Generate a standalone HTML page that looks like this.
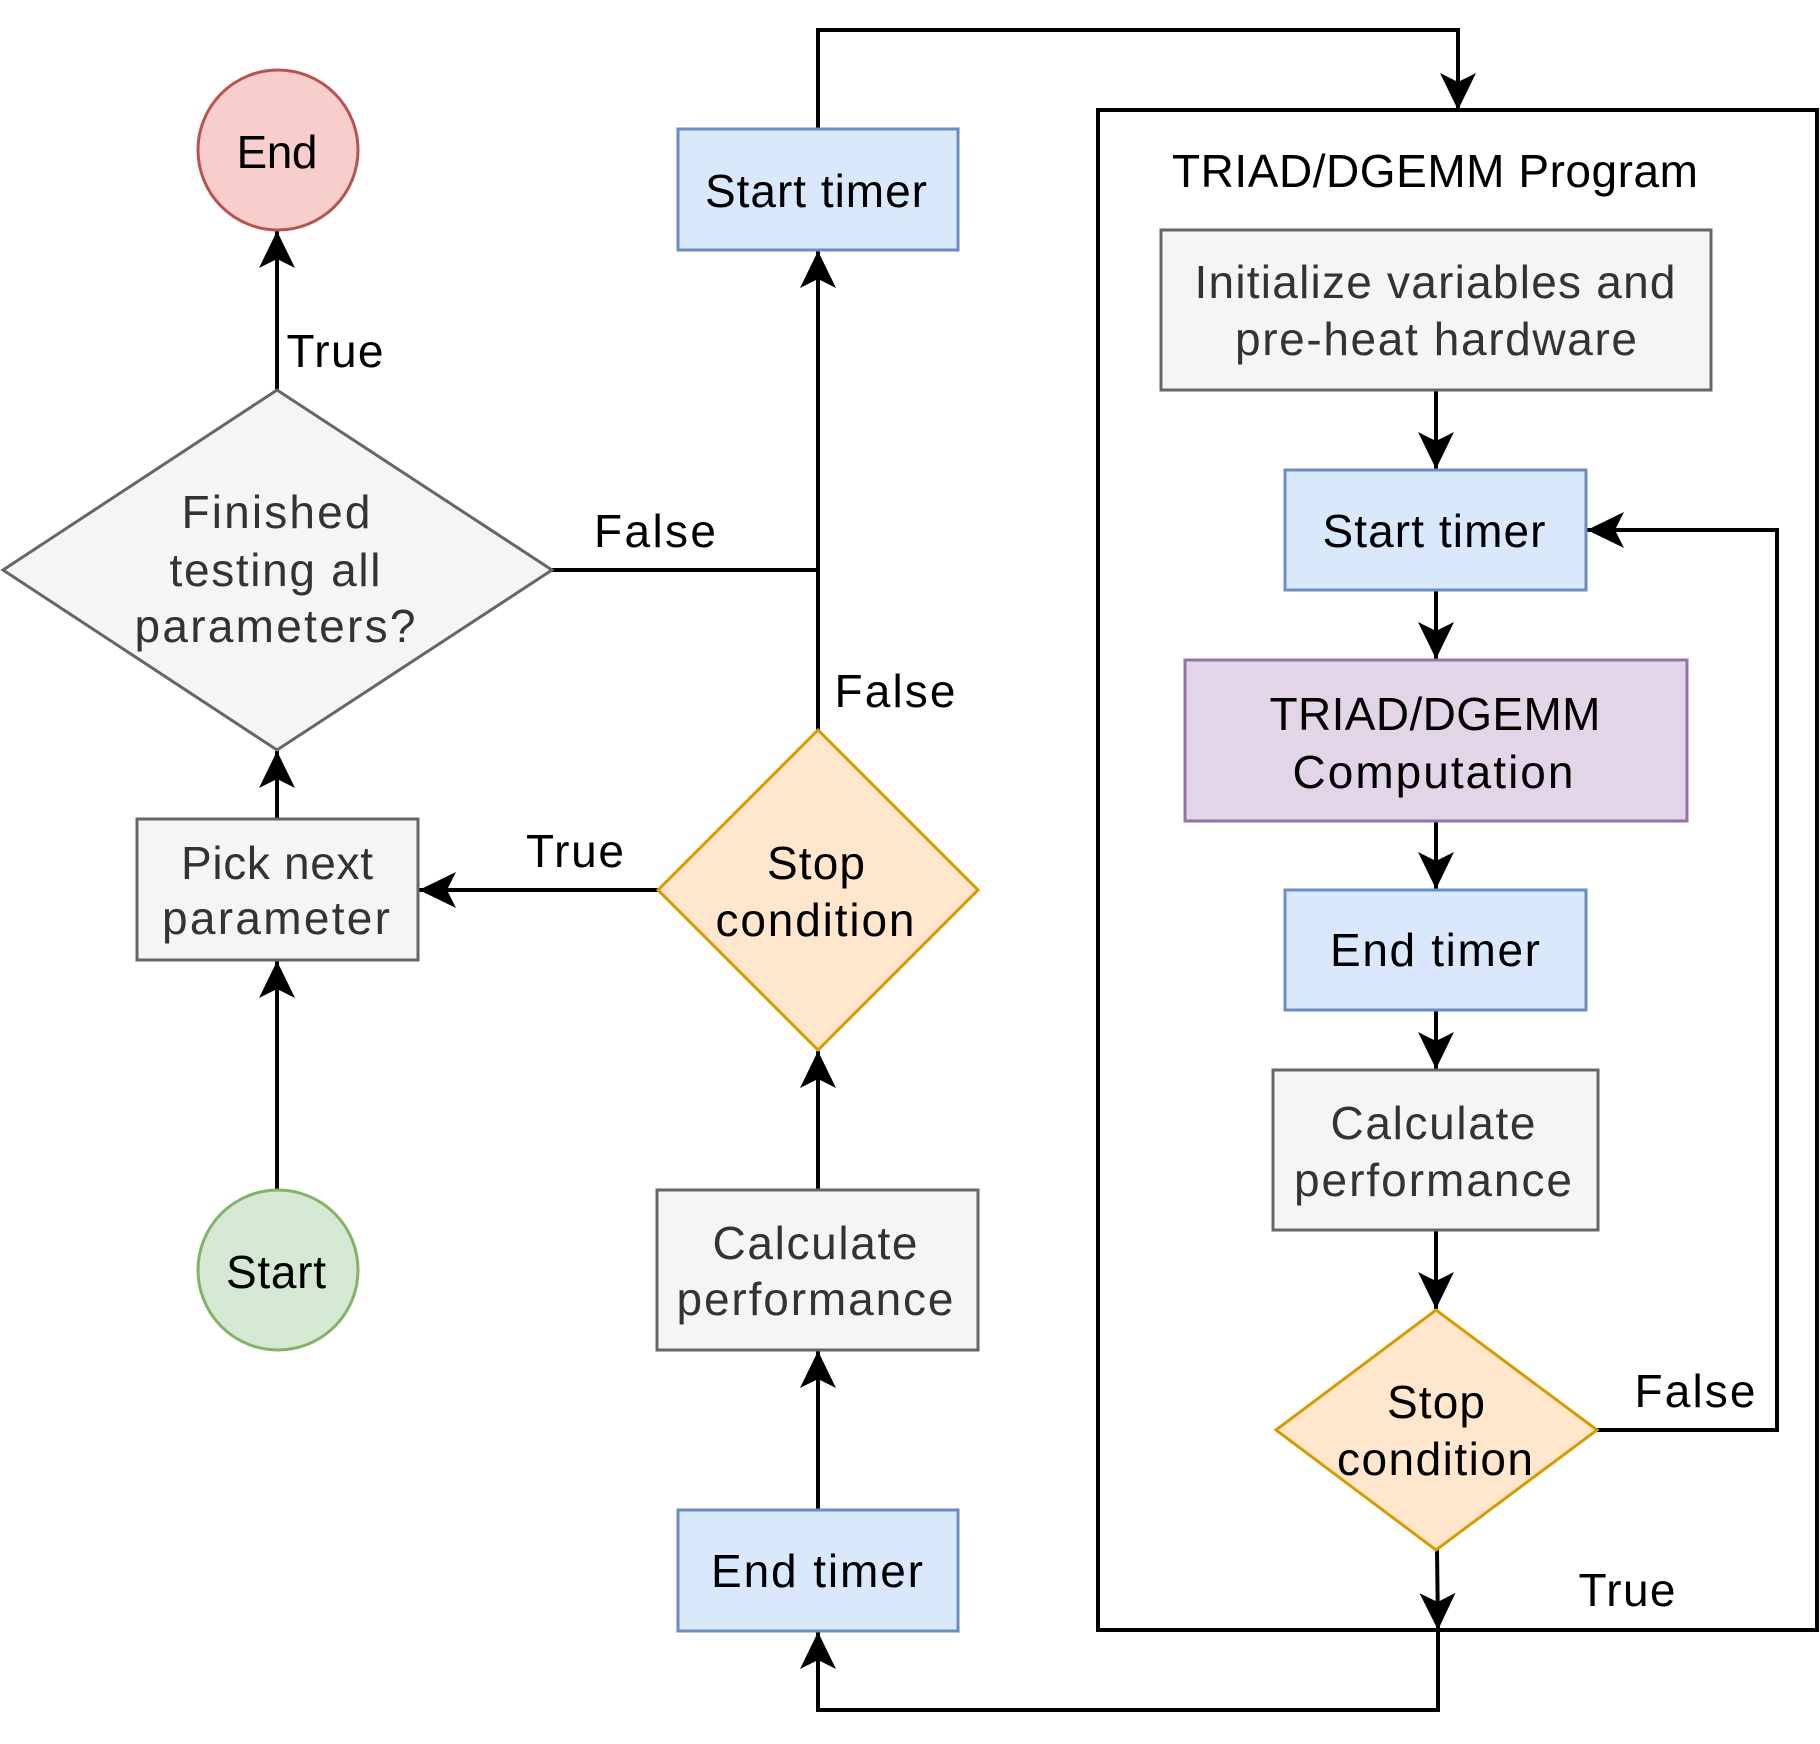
<!DOCTYPE html>
<html><head><meta charset="utf-8"><style>
html,body{margin:0;padding:0;background:#fff}
svg{display:block}
text{font-family:"Liberation Sans",Arial,sans-serif;font-size:46px;text-anchor:middle}
</style></head><body>
<svg width="1820" height="1744" viewBox="0 0 1820 1744" xmlns="http://www.w3.org/2000/svg">
<defs>
<marker id="a" viewBox="0 0 40 40" refX="38" refY="20" markerWidth="40" markerHeight="40" markerUnits="userSpaceOnUse" orient="auto">
<path d="M1,2 L38,20 L1,38 L10,20 Z" fill="#000"/>
</marker>
</defs>
<g fill="none" stroke="#000" stroke-width="4">
<rect x="1098" y="110" width="719" height="1520"/>
<polyline points="818,129 818,30 1458,30 1458,110" marker-end="url(#a)"/>
<polyline points="818,730 818,251" marker-end="url(#a)"/>
<polyline points="552,570 818,570"/>
<polyline points="277,390 277,231" marker-end="url(#a)"/>
<polyline points="277,819 277,751" marker-end="url(#a)"/>
<polyline points="277,1190 277,961" marker-end="url(#a)"/>
<polyline points="658,890 419,890" marker-end="url(#a)"/>
<polyline points="818,1190 818,1051" marker-end="url(#a)"/>
<polyline points="818,1510 818,1632" marker-start="none"/>
<polyline points="1438,1630 1438,1710 818,1710 818,1632" marker-end="url(#a)"/>
<polyline points="818,1510 818,1351" marker-end="url(#a)"/>
<polyline points="1436,390 1436,469" marker-end="url(#a)"/>
<polyline points="1436,590 1436,659" marker-end="url(#a)"/>
<polyline points="1436,821 1436,889" marker-end="url(#a)"/>
<polyline points="1436,1010 1436,1069" marker-end="url(#a)"/>
<polyline points="1436,1230 1436,1309" marker-end="url(#a)"/>
<polyline points="1437,1550 1438,1630" marker-end="url(#a)"/>
<polyline points="1597,1430 1777,1430 1777,530 1587,530" marker-end="url(#a)"/>
</g>
<g stroke-width="3">
<circle cx="278" cy="150" r="80" fill="#f8cecc" stroke="#b85450"/>
<circle cx="278" cy="1270" r="80" fill="#d5e8d4" stroke="#82b366"/>
<polygon points="3,570 277,390 552,570 277,750" fill="#f5f5f5" stroke="#666"/>
<rect x="137" y="819" width="281" height="141" fill="#f5f5f5" stroke="#666"/>
<polygon points="658,890 818,730 978,890 818,1050" fill="#ffe6cc" stroke="#d79b00"/>
<rect x="678" y="129" width="280" height="121" fill="#dae8fc" stroke="#6c8ebf"/>
<rect x="657" y="1190" width="321" height="160" fill="#f5f5f5" stroke="#666"/>
<rect x="678" y="1510" width="280" height="121" fill="#dae8fc" stroke="#6c8ebf"/>
<rect x="1161" y="230" width="550" height="160" fill="#f5f5f5" stroke="#666"/>
<rect x="1285" y="470" width="301" height="120" fill="#dae8fc" stroke="#6c8ebf"/>
<rect x="1185" y="660" width="502" height="161" fill="#e1d5e7" stroke="#9673a6"/>
<rect x="1285" y="890" width="301" height="120" fill="#dae8fc" stroke="#6c8ebf"/>
<rect x="1273" y="1070" width="325" height="160" fill="#f5f5f5" stroke="#666"/>
<polygon points="1276,1430 1436,1310 1597,1430 1436,1550" fill="#ffe6cc" stroke="#d79b00"/>
</g>
<g lengthAdjust="spacingAndGlyphs">
<text x="277" y="168" textLength="81">End</text>
<text x="335" y="367" textLength="97">True</text>
<text x="276" y="528" textLength="189" fill="#333">Finished</text>
<text x="275" y="586" textLength="211" fill="#333">testing all</text>
<text x="275" y="642" textLength="281" fill="#333">parameters?</text>
<text x="655" y="547" textLength="122">False</text>
<text x="277" y="879" textLength="192" fill="#333">Pick next</text>
<text x="276" y="934" textLength="228" fill="#333">parameter</text>
<text x="575" y="867" textLength="98">True</text>
<text x="276" y="1288" textLength="100">Start</text>
<text x="816" y="207" textLength="222">Start timer</text>
<text x="895" y="707" textLength="121">False</text>
<text x="816" y="879" textLength="98">Stop</text>
<text x="815" y="936" textLength="199">condition</text>
<text x="815" y="1259" textLength="205" fill="#333">Calculate</text>
<text x="815" y="1315" textLength="277" fill="#333">performance</text>
<text x="817" y="1587" textLength="212">End timer</text>
<text x="1435" y="187" textLength="526">TRIAD/DGEMM Program</text>
<text x="1435" y="298" textLength="481" fill="#333">Initialize variables and</text>
<text x="1436" y="355" textLength="402" fill="#333">pre-heat hardware</text>
<text x="1434" y="547" textLength="223">Start timer</text>
<text x="1435" y="730" textLength="331">TRIAD/DGEMM</text>
<text x="1433" y="788" textLength="281">Computation</text>
<text x="1435" y="966" textLength="210">End timer</text>
<text x="1433" y="1139" textLength="205" fill="#333">Calculate</text>
<text x="1433" y="1196" textLength="278" fill="#333">performance</text>
<text x="1436" y="1418" textLength="98">Stop</text>
<text x="1435" y="1475" textLength="196">condition</text>
<text x="1695" y="1407" textLength="121">False</text>
<text x="1627" y="1606" textLength="97">True</text>
</g>
</svg>
</body></html>
